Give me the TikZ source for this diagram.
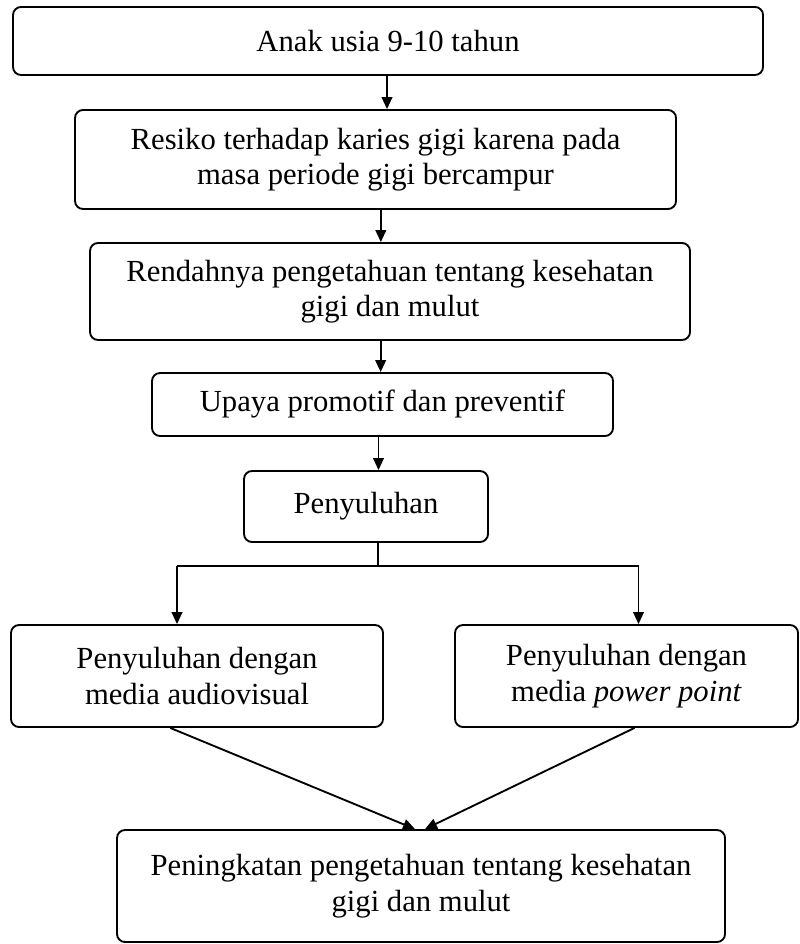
\documentclass[tikz,border=0pt]{standalone}
\usepackage{fontspec}
\setmainfont{Liberation Serif}
\usepackage{tikz}
\usetikzlibrary{arrows.meta}

\begin{document}
\begin{tikzpicture}[>={Triangle[length=9pt,width=8pt]},x=0.75pt,y=-0.75pt,
  box/.style={draw,line width=1.4pt,rounded corners=6pt,align=center,inner sep=0pt,
    font=\fontsize{23}{26.5}\selectfont},
  link/.style={line width=1.4pt}]
  \useasboundingbox (0,0) rectangle (799,944);
  \node[box,minimum width=562.5pt,minimum height=51pt] (usia) at (388,41) {Anak usia 9-10 tahun};
  \node[box,minimum width=450.75pt,minimum height=74.25pt] (resiko) at (375.5,159.5)
    {Resiko terhadap karies gigi karena pada\\ masa periode gigi bercampur};
  \node[box,minimum width=450pt,minimum height=72.75pt] (rendah) at (390,291.5)
    {Rendahnya pengetahuan tentang kesehatan\\ gigi dan mulut};
  \node[box,minimum width=345.75pt,minimum height=47.25pt] (upaya) at (382.5,404.5)
    {Upaya promotif dan preventif};
  \node[box,minimum width=183pt,minimum height=53.25pt] (suluh) at (366,506.5) {Penyuluhan};
  \node[box,minimum width=279pt,minimum height=76.5pt] (audio) at (197,676)
    {Penyuluhan dengan\\ media audiovisual};
  \node[box,minimum width=257.25pt,minimum height=76.5pt] (ppt) at (626.5,676)
    {Penyuluhan dengan\\ media \textit{power point}};
  \node[box,minimum width=456pt,minimum height=84pt] (hasil) at (421,886)
    {Peningkatan pengetahuan tentang kesehatan\\ gigi dan mulut};
  \coordinate (cabang) at ([xshift=9pt,yshift=-17pt]suluh.south);
  \coordinate (kiri) at ([xshift=-15pt]cabang -| audio.north);
  \coordinate (kanan) at ([xshift=9pt]cabang -| ppt.north);
  \draw[link,->] ([xshift=-0.75pt]usia.south) -- ([xshift=-0.75pt]usia.south |- resiko.north);
  \draw[link,->] ([xshift=4pt]resiko.south) -- ([xshift=4pt]resiko.south |- rendah.north);
  \draw[link,->] ([xshift=-7pt]rendah.south) -- ([xshift=-7pt]rendah.south |- upaya.north);
  \draw[link,->] ([xshift=-3pt]upaya.south) -- ([xshift=-3pt]upaya.south |- suluh.north);
  \draw[link] ([xshift=9pt]suluh.south) -- (cabang);
  \draw[link] (kiri) -- (kanan);
  \draw[link,->] (kiri) -- (kiri |- audio.north);
  \draw[link,->] (kanan) -- (kanan |- ppt.north);
  \draw[link,->] ([xshift=-20pt]audio.south) -- ([xshift=-4.5pt]hasil.north);
  \draw[link,->] ([xshift=6pt]ppt.south) -- ([xshift=3pt]hasil.north);
\end{tikzpicture}
\end{document}
